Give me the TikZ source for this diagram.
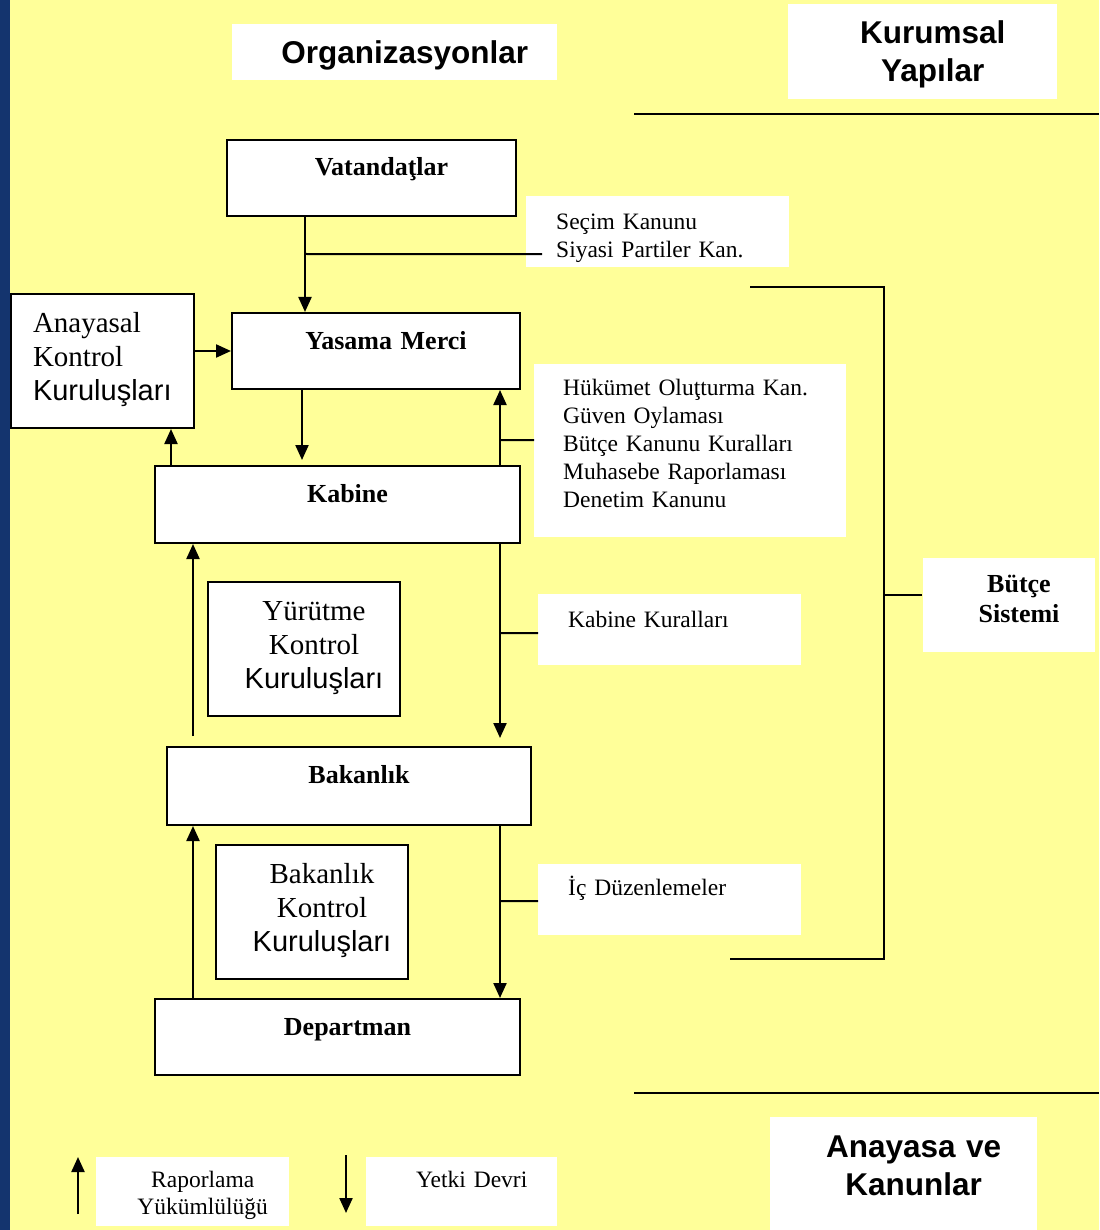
\documentclass[tikz,border=0pt]{standalone}
\usepackage{fontspec}
\setmainfont{Liberation Serif}
\setsansfont{Liberation Sans}
\usepackage{tikz}
\usetikzlibrary{arrows.meta}

\definecolor{bgyellow}{RGB}{255,255,153}
\definecolor{stripeblue}{RGB}{20,52,110}

\tikzset{
  shiftc/.style={align=center, inner xsep=0pt,
    execute at begin node={\leftskip=20pt plus 1fil\rightskip=0pt plus 1fil\parfillskip=0pt}},
  orgbox/.style={draw=black, line width=2pt, fill=white, anchor=north west, inner ysep=0pt,
    shiftc, font=\fontsize{26}{30}\selectfont\bfseries, text height=36pt},
  ctrlbox/.style={draw=black, line width=2pt, fill=white, anchor=north west, inner ysep=0pt,
    font=\fontsize{29}{34}\selectfont, text height=38pt},
  lawbox/.style={fill=white, anchor=north west, inner ysep=0pt, align=left,
    font=\fontsize{23.5}{28}\selectfont},
  titlebox/.style={fill=white, anchor=north west, inner ysep=0pt, shiftc,
    font=\fontsize{31.5}{38}\selectfont\sffamily\bfseries},
  arr/.style={line width=2.2pt, -{Triangle[length=15pt,width=13pt]}},
  ln/.style={line width=2pt}
}

\begin{document}
\begin{tikzpicture}[x=1pt,y=-1pt]
                % background and left stripe
                \useasboundingbox (0,0) rectangle (1099,1230);
                \fill[bgyellow] (0,0) rectangle (1099,1230);
                \fill[stripeblue] (0,0) rectangle (10,1230);

                % titles
                \node[titlebox, text width=325pt, text height=39pt, text depth=17pt] (orgt) at (232,24) {Organizasyonlar};
                \node[titlebox, text width=269pt, text height=39pt, text depth=56pt] (kurt) at (788,4) {Kurumsal\\Yapılar};
                \node[titlebox, text width=267pt, text height=40pt, text depth=73pt] (anvt) at (770,1117) {Anayasa ve\\Kanunlar};
                \draw[ln] (634,114) -- (1099,114);
                \draw[ln] (634,1093) -- (1099,1093);

                % organisations
                \node[orgbox, text width=289pt, text depth=40pt] (vat) at (226,139) {Vatandaţlar};
                \node[orgbox, text width=288pt, text depth=40pt] (yas) at (231,312) {Yasama Merci};
                \node[orgbox, text width=365pt, text depth=41pt] (kab) at (154,465) {Kabine};
                \node[orgbox, text width=364pt, text depth=42pt] (bak) at (166,746) {Bakanlık};
                \node[orgbox, text width=365pt, text depth=40pt] (dep) at (154,998) {Departman};

                % control bodies
                \node[ctrlbox, align=left, inner xsep=22pt, text width=139pt, text depth=96pt] (ana) at (10,293)
                  {Anayasal\\Kontrol\\{\sffamily Kuruluşları}};
                \node[ctrlbox, shiftc, text width=192pt, text depth=96pt] (yur) at (207,581)
                  {Yürütme\\Kontrol\\{\sffamily Kuruluşları}};
                \node[ctrlbox, shiftc, text width=192pt, text depth=96pt] (bkk) at (215,844)
                  {Bakanlık\\Kontrol\\{\sffamily Kuruluşları}};

                % rules and laws
                \node[lawbox, inner xsep=30pt, text width=203pt, text height=33pt, text depth=38pt] (sec) at (526,196)
                  {Seçim Kanunu\\Siyasi Partiler Kan.};
                \node[lawbox, inner xsep=29pt, text width=254pt, text height=31pt, text depth=142pt] (huk) at (534,364)
                  {Hükümet Oluţturma Kan.\\Güven Oylaması\\Bütçe Kanunu Kuralları\\Muhasebe Raporlaması\\Denetim Kanunu};
                \node[lawbox, inner xsep=30pt, text width=203pt, text height=33pt, text depth=38pt] (kkr) at (538,594)
                  {Kabine Kuralları};
                \node[lawbox, inner xsep=30pt, text width=203pt, text height=31pt, text depth=40pt] (icd) at (538,864)
                  {İç Düzenlemeler};

                % budget system
                \node[orgbox, draw=none, text width=172pt, text height=34pt, text depth=60pt] (bud) at (922,557)
                  {Bütçe\\Sistemi};
                \coordinate (brTop) at (750,287);
                \coordinate (brBot) at (730,959);
                \draw[ln] (brTop) -- (884,287) -- (884,959) -- (brBot);
                \draw[ln] ([yshift=10pt]bud.west) -- ++(-38pt,0pt);

                % delegation and reporting
                \draw[arr] ([xshift=79pt]vat.south west) -- ([xshift=74pt]yas.north west);
                \coordinate (secJ) at (306,254);
                \draw[ln] ([shift={(16pt,-22.5pt)}]sec.west) -- (secJ);
                \draw[arr] (ana.east |- yas.west) -- (yas.west);
                \draw[arr] ([xshift=17pt]kab.north west) -- ([xshift=161pt]ana.south west);
                \draw[arr, shorten >=5pt] ([xshift=71pt]yas.south west) -- ([xshift=148pt]kab.north west);
                \draw[arr] ([xshift=346pt]kab.north west) -- ([xshift=269pt]yas.south west);
                \coordinate (hukJ) at (500,440);
                \draw[ln] ([yshift=10.5pt]huk.west) -- (hukJ);
                \draw[arr, shorten >=8pt] ([xshift=346pt]kab.south west) -- ([xshift=334pt]bak.north west);
                \coordinate (kkrJ) at (500,633);
                \draw[ln] ([yshift=-3.5pt]kkr.west) -- (kkrJ);
                \draw[arr, shorten <=10pt] ([xshift=27pt]bak.north west) -- ([xshift=39pt]kab.south west);
                \draw[arr] ([xshift=334pt]bak.south west) -- ([xshift=346pt]dep.north west);
                \coordinate (icdJ) at (500,901);
                \draw[ln] ([yshift=-1.5pt]icd.west) -- (icdJ);
                \draw[arr] ([xshift=39pt]dep.north west) -- ([xshift=27pt]bak.south west);

                % legend
                \node[lawbox, shiftc, text width=193pt, text height=30pt, text depth=39pt, font=\fontsize{23.5}{27}\selectfont] (rap) at (96,1157)
                  {Raporlama\\Yükümlülüğü};
                \node[lawbox, shiftc, text width=191pt, text height=30pt, text depth=39pt] (yet) at (366,1157)
                  {Yetki Devri};
                \coordinate (rapS) at (78,1214);
                \coordinate (rapE) at (78,1157);
                \draw[arr] (rapS) -- (rapE);
                \coordinate (yetS) at (346,1155);
                \coordinate (yetE) at (346,1213);
                \draw[arr] (yetS) -- (yetE);
\end{tikzpicture}
\end{document}
